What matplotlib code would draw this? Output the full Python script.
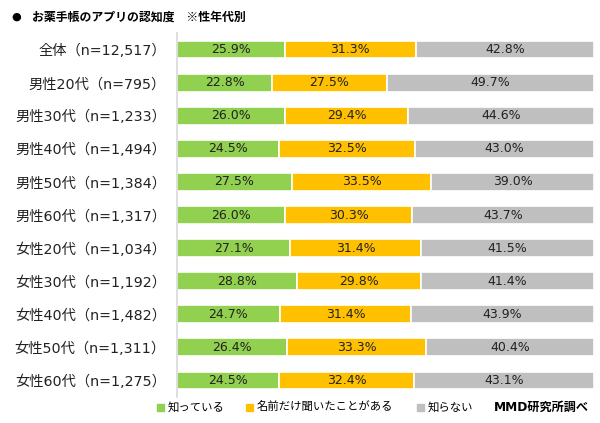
import matplotlib
matplotlib.use("Agg")
import matplotlib.pyplot as plt
import numpy as np

plt.rcParams['font.family'] = ['DejaVu Sans', 'Noto Sans CJK JP']

categories = ["全体（n=12,517）", "男性20代（n=795）", "男性30代（n=1,233）", "男性40代（n=1,494）",
              "男性50代（n=1,384）", "男性60代（n=1,317）", "女性20代（n=1,034）", "女性30代（n=1,192）",
              "女性40代（n=1,482）", "女性50代（n=1,311）", "女性60代（n=1,275）"]
know = [25.9, 22.8, 26.0, 24.5, 27.5, 26.0, 27.1, 28.8, 24.7, 26.4, 24.5]
heard = [31.3, 27.5, 29.4, 32.5, 33.5, 30.3, 31.4, 29.8, 31.4, 33.3, 32.4]
unknown = [42.8, 49.7, 44.6, 43.0, 39.0, 43.7, 41.5, 41.4, 43.9, 40.4, 43.1]
series_names = ["知っている", "名前だけ聞いたことがある", "知らない"]
colors = ["#92D050", "#FFC000", "#BFBFBF"]

fig = plt.figure(figsize=(6, 4.23), dpi=100)
ax = fig.add_axes([177/600, 1-397/423, (594-177)/600, (397-33)/423])

y = np.arange(len(categories))
left = np.zeros(len(categories))
for vals, c in zip([know, heard, unknown], colors):
    ax.barh(y, vals, left=left, color=c, height=0.54, edgecolor='white', linewidth=1.2)
    for yi, v, l in zip(y, vals, left):
        ax.text(l + v/2, yi, f"{v:.1f}%", ha='center', va='center', fontsize=9, color='#222222')
    left = left + np.array(vals)

ax.set_xlim(0, 100)
ax.set_ylim(len(categories)-0.5, -0.5)
ax.set_yticks(y)
ax.set_yticklabels(categories, fontsize=10.3, color='#222222')
ax.tick_params(axis='y', length=0, pad=8)
ax.set_xticks([])
for s in ['top', 'right', 'bottom']:
    ax.spines[s].set_visible(False)
ax.spines['left'].set_color('#D9D9D9')
ax.spines['left'].set_linewidth(1.2)

fig.text(11/600, 1-17/423, "●", fontsize=8, va='center', ha='left')
fig.text(32/600, 1-17/423, "お薬手帳のアプリの認知度　※性年代別", fontsize=8.6,
         fontweight='bold', va='center', ha='left', family=['Noto Sans CJK JP'])

# legend
ly = 1-407/423
for x, name, c in [(157, series_names[0], colors[0]), (246, series_names[1], colors[1]), (417, series_names[2], colors[2])]:
    fig.patches.append(plt.Rectangle((x/600, ly-3.5/423), 7/600, 7/423, transform=fig.transFigure, color=c))
    fig.text((x+11)/600, ly, name, fontsize=8.2, va='center', ha='left', family=['Noto Sans CJK JP'])
fig.text(589/600, ly, "MMD研究所調べ", fontsize=8.7, fontweight='bold', va='center', ha='right')

fig.savefig("out.png", dpi=100)
